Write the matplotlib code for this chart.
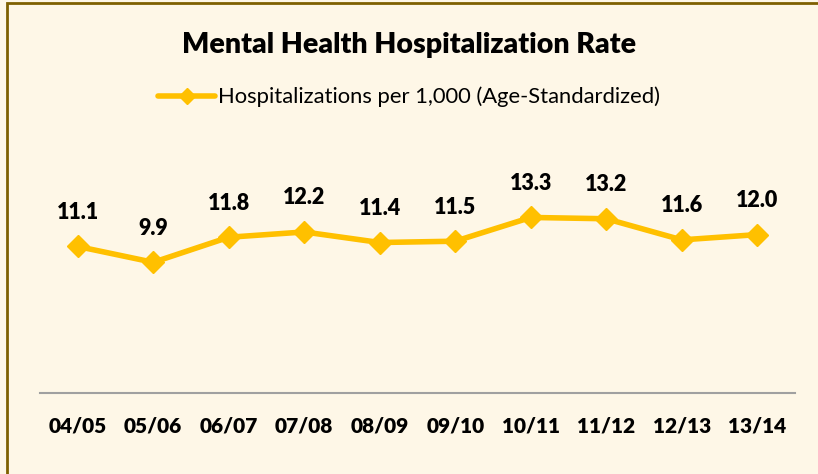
import matplotlib
matplotlib.use('Agg')
import matplotlib.pyplot as plt
from matplotlib.patches import Rectangle

###############################
# data
###############################
years = ['04/05', '05/06', '06/07', '07/08', '08/09',
         '09/10', '10/11', '11/12', '12/13', '13/14']
rates = [11.1, 9.9, 11.8, 12.2, 11.4, 11.5, 13.3, 13.2, 11.6, 12.0]

plt.rcParams['font.family'] = ['Lato', 'DejaVu Sans']

bg = '#fef7e7'
gold = '#ffc000'

fig = plt.figure(figsize=(8.18, 4.74), dpi=100, facecolor=bg)
ax = fig.add_axes([40/818, 81/474, 755/818, 264/474])
ax.set_facecolor(bg)

x = list(range(len(years)))
ax.plot(x, rates, color=gold, lw=4, marker='D', ms=11, solid_capstyle='round',
        label='Hospitalizations per 1,000 (Age-Standardized)')

for xi, v in zip(x, rates):
    ax.annotate('%.1f' % v, (xi, v), xytext=(0, 17), textcoords='offset points',
                ha='center', va='bottom', fontsize=15.5, fontweight='heavy')

ax.set_xlim(-0.5, len(years) - 0.5)
ax.set_ylim(0, 20)
ax.set_xticks(x)
ax.set_xticklabels(years, fontsize=15, fontweight='heavy')
ax.tick_params(axis='x', length=0, pad=17)
ax.set_yticks([])
for s in ['top', 'right', 'left']:
    ax.spines[s].set_visible(False)
ax.spines['bottom'].set_color('#a0a0a0')
ax.spines['bottom'].set_linewidth(1.5)

fig.text(0.5, 1 - 45/474, 'Mental Health Hospitalization Rate', ha='center',
         va='center', fontsize=20.5, fontweight='heavy')
leg = fig.legend(loc='center', bbox_to_anchor=(0.5, 1 - 97/474), frameon=False,
                 fontsize=15.8, handlelength=2.6, handletextpad=0.1, markerscale=0.75)

# outer border
fig.patches.append(Rectangle((6.5/818, -0.1), 1.2, 1.1 - 3.5/474, transform=fig.transFigure,
                             fill=False, edgecolor='#7f6000', lw=2))

fig.savefig('out.png', dpi=100, facecolor=bg)
